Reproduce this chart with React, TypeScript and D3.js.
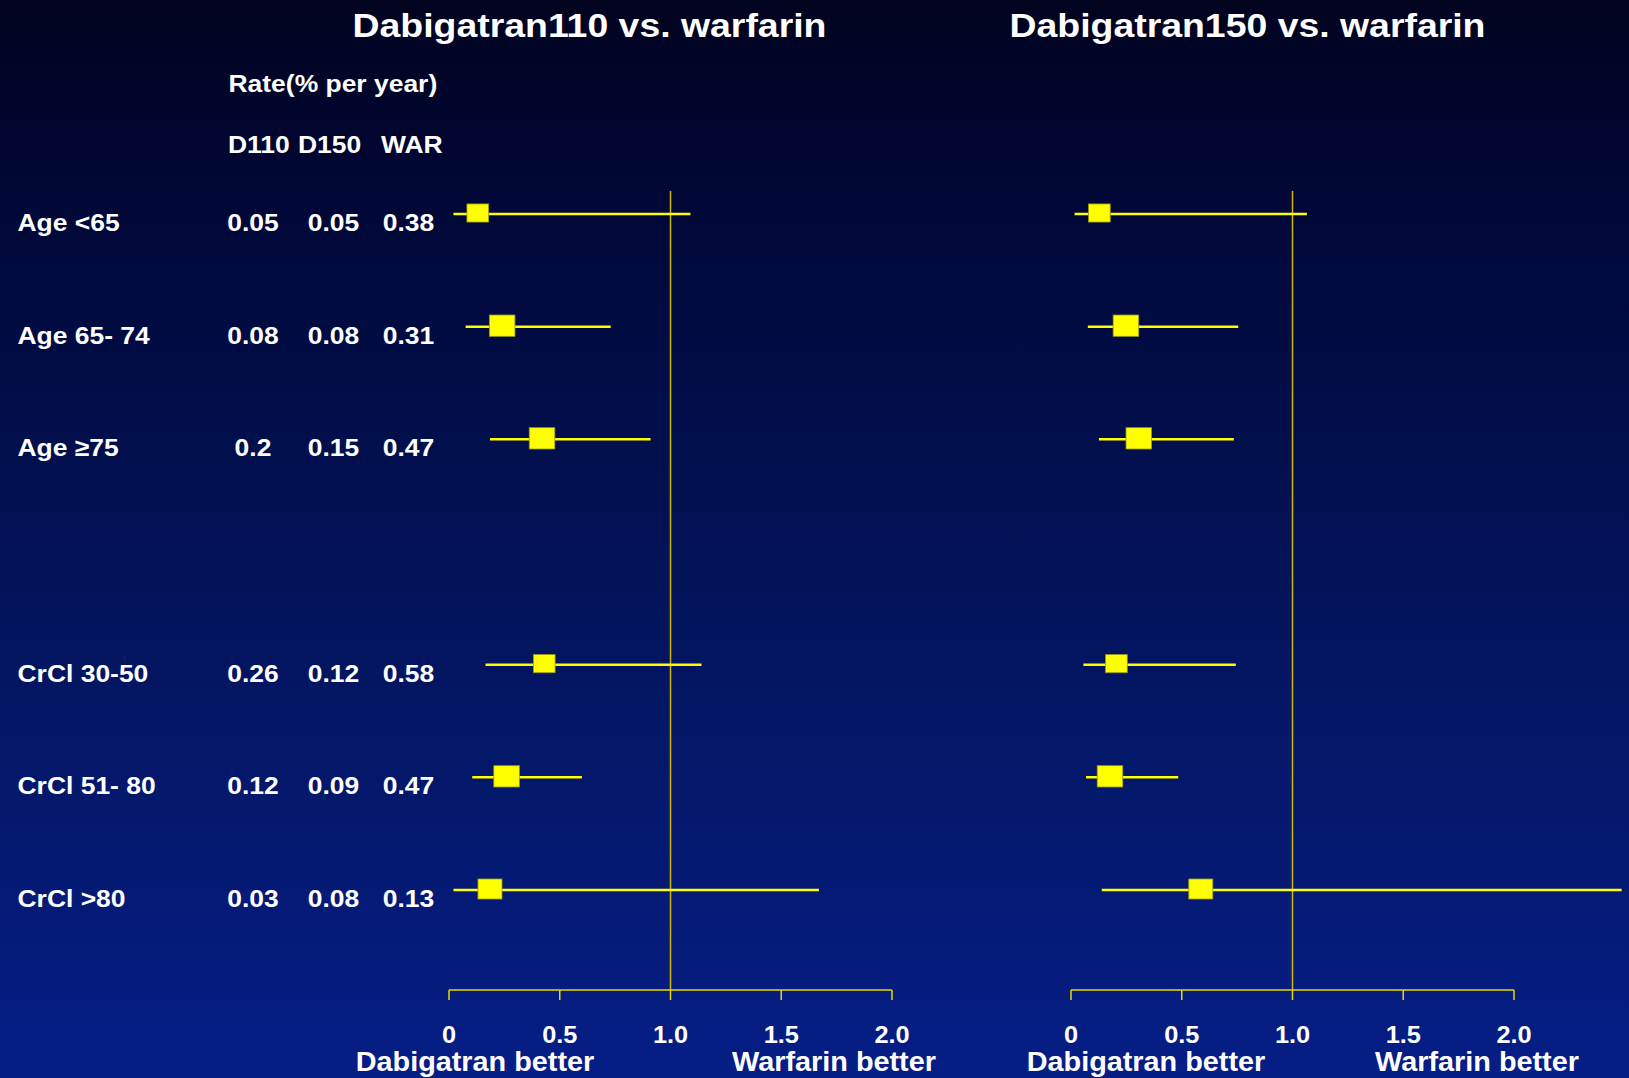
import * as d3 from "d3";

// subgroups (a blank slot separates age and renal function)
const subgroups = ["Age <65", "Age 65- 74", "Age ≥75", "", "CrCl 30-50", "CrCl 51- 80", "CrCl >80"];
const rowLabels = ["Age <65", "Age 65- 74", "Age ≥75", "CrCl 30-50", "CrCl 51- 80", "CrCl >80"];

// rates, % per year
const rateD110 = ["0.05", "0.08", "0.2", "0.26", "0.12", "0.03"];
const rateD150 = ["0.05", "0.08", "0.15", "0.12", "0.09", "0.08"];
const rateWar = ["0.38", "0.31", "0.47", "0.58", "0.47", "0.13"];

// hazard ratios, dabigatran 110 vs warfarin
const hr110 = [0.13, 0.24, 0.42, 0.43, 0.26, 0.185];
const lo110 = [0.02, 0.075, 0.185, 0.165, 0.105, 0.02];
const hi110 = [1.09, 0.73, 0.91, 1.14, 0.6, 1.67];

// hazard ratios, dabigatran 150 vs warfarin
const hr150 = [0.128, 0.248, 0.306, 0.205, 0.176, 0.586];
const lo150 = [0.016, 0.076, 0.126, 0.056, 0.068, 0.139];
const hi150 = [1.065, 0.755, 0.735, 0.744, 0.484, 2.486];

// relative weight of each subgroup (box size)
const weights = [0.85, 1, 1, 0.85, 1, 0.94];

const tickValues = [0, 0.5, 1, 1.5, 2];
const tickLabels = ["0", "0.5", "1.0", "1.5", "2.0"];

const W = 1629;
const H = 1078;
const FONT = "'Liberation Sans', Arial, Helvetica, sans-serif";

const y = d3.scalePoint().domain(subgroups).range([214, 890]);
const boxH = d3.scaleLinear().domain([0, 1]).range([0, 21.3]);
const xLeft = d3.scaleLinear().domain([0, 2]).range([449, 892]);
const xRight = d3.scaleLinear().domain([0, 2]).range([1071, 1514]);

const cols = [253, 333.5, 408.5];

const Label = ({ x, y, text, size = 24.5, anchor = "start", sx = 1.08 }) => (
  <text
    transform={`translate(${x},${y}) scale(${sx},1)`}
    fill="#ffffff"
    fontFamily={FONT}
    fontWeight="bold"
    fontSize={size}
    textAnchor={anchor}
  >
    {text}
  </text>
);

const Panel = ({ x, hr, lo, hi }) => {
  const yTop = 191;
  const yAxis = 990;
  return (
    <g>
      {/* line of no effect */}
      <line x1={x(1)} x2={x(1)} y1={yTop} y2={yAxis} stroke="#cdb800" strokeWidth={1.5} />
      {/* axis */}
      <line x1={x(0)} x2={x(2)} y1={yAxis} y2={yAxis} stroke="#e8d800" strokeWidth={1.5} />
      {tickValues.map((t, i) => (
        <g key={t}>
          <line x1={x(t)} x2={x(t)} y1={yAxis} y2={yAxis + 10} stroke="#e8d800" strokeWidth={1.5} />
          <Label x={x(t)} y={1043} text={tickLabels[i]} size={23.5} anchor="middle" />
        </g>
      ))}
      {rowLabels.map((r, i) => {
        const cy = y(r);
        const h = boxH(weights[i]);
        const w = h * 1.2;
        return (
          <g key={r}>
            <line x1={x(lo[i])} x2={x(hi[i])} y1={cy} y2={cy} stroke="#ffff00" strokeWidth={2.5} />
            <rect
              x={x(hr[i]) - w / 2}
              y={cy - h / 2 - 1}
              width={w}
              height={h}
              fill="#ffff00"
              stroke="#9a9a10"
              strokeWidth={0.8}
            />
          </g>
        );
      })}
    </g>
  );
};

export default function App() {
  return (
    <>
      <style>{`body{margin:0;overflow:hidden}`}</style>
      <svg width={W} height={H} style={{ display: "block" }}>
        <defs>
          <linearGradient id="bg" x1="0" y1="0" x2="0" y2="1">
            <stop offset="0" stopColor="#01031f" />
            <stop offset="0.2" stopColor="#000838" />
            <stop offset="0.6" stopColor="#03155f" />
            <stop offset="1" stopColor="#061e86" />
          </linearGradient>
        </defs>
        <rect width={W} height={H} fill="url(#bg)" />

        <Label x={589.5} y={37} text="Dabigatran110 vs. warfarin" size={34} anchor="middle" sx={1.1} />
        <Label x={1247.5} y={37} text="Dabigatran150 vs. warfarin" size={34} anchor="middle" sx={1.1} />

        <Label x={228.5} y={92} text="Rate(% per year)" />
        <Label x={228} y={153} text="D110" />
        <Label x={298} y={153} text="D150" />
        <Label x={381} y={153} text="WAR" />

        {rowLabels.map((r, i) => (
          <g key={r}>
            <Label x={17.5} y={y(r) + 17} text={r} />
            <Label x={cols[0]} y={y(r) + 17} text={rateD110[i]} anchor="middle" />
            <Label x={cols[1]} y={y(r) + 17} text={rateD150[i]} anchor="middle" />
            <Label x={cols[2]} y={y(r) + 17} text={rateWar[i]} anchor="middle" />
          </g>
        ))}

        <Panel x={xLeft} hr={hr110} lo={lo110} hi={hi110} />
        <Panel x={xRight} hr={hr150} lo={lo150} hi={hi150} />

        <Label x={475} y={1071} text="Dabigatran better" size={28} anchor="middle" sx={1.03} />
        <Label x={834} y={1071} text="Warfarin better" size={28} anchor="middle" sx={1.03} />
        <Label x={1146} y={1071} text="Dabigatran better" size={28} anchor="middle" sx={1.03} />
        <Label x={1477} y={1071} text="Warfarin better" size={28} anchor="middle" sx={1.03} />
      </svg>
    </>
  );
}
